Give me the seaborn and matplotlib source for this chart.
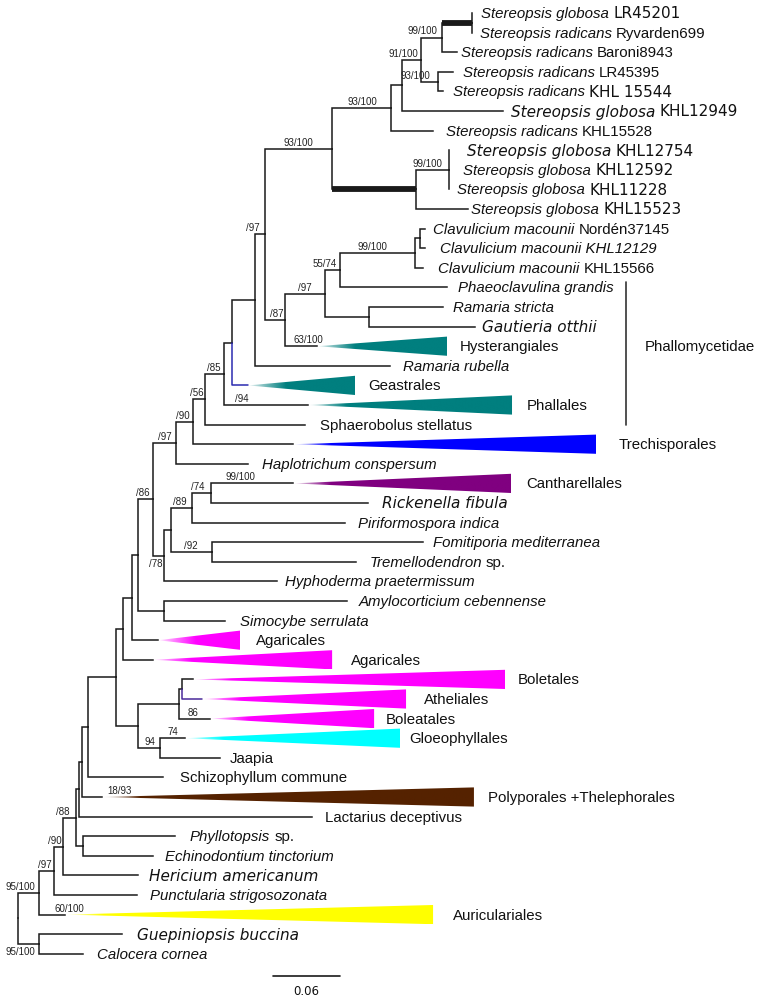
import numpy as np
import pandas as pd
import matplotlib
matplotlib.use("Agg")
import matplotlib.pyplot as plt
import matplotlib.colors as mcolors
from matplotlib.patches import Polygon
import seaborn as sns

sns.set_theme(style="white")
plt.rcParams["font.family"] = ["DejaVu Sans"]

# ---------------- data: tree topology (preorder, children top-to-bottom) -------------
node_id = ["root", "B", "C", "D", "NN", "MM", "LL", "KK", "FF", "EE", "DD", "BB", "W", "V", "U", "T", "S", "R", "Q",
           "P10", "P7", "P6", "P5", "P3", "P2", "P1", "LR45201", "Ryvarden699", "Baroni8943", "P4", "LR45395",
           "KHL15544", "KHL12949", "KHL15528", "P8", "P9", "KHL12754", "KHL12592", "KHL11228", "KHL15523",
           "P11", "P12", "P13", "CL1", "CL2", "Norden37145", "KHL12129", "KHL15566", "Phaeoclavulina", "P14",
           "Rstricta", "Gautieria", "Hysterangiales", "Rrubella", "Geastrales", "Phallales", "Sphaerobolus",
           "Trechisporales", "Haplotrichum", "X", "Y", "Z", "AB", "Cantharellales", "Rickenella", "Piriformospora",
           "AA", "Fomitiporia", "Tremellodendron", "Hyphoderma", "CC", "Amylocorticium", "Simocybe",
           "Agaricales1", "Agaricales2", "GG", "HH", "JJ", "Boletales", "Atheliales", "Boleatales", "II",
           "Gloeophyllales", "Jaapia", "Schizophyllum", "Polyporales", "Lactarius", "PE", "Phyllotopsis",
           "Echinodontium", "Hericium", "Punctularia", "Auriculariales", "GC", "Guepiniopsis", "Calocera"]
node_parent = [None, "root", "B", "C", "D", "NN", "MM", "LL", "KK", "FF", "EE", "DD", "BB", "W", "V", "U", "T", "S", "R",
               "Q", "P10", "P7", "P6", "P5", "P3", "P2", "P1", "P1", "P2", "P3", "P4",
               "P4", "P5", "P6", "P7", "P8", "P9", "P9", "P9", "P8",
               "P10", "P11", "P12", "P13", "CL1", "CL2", "CL2", "CL1", "P13", "P12",
               "P14", "P14", "P11", "Q", "R", "S", "T",
               "U", "V", "W", "X", "Y", "Z", "AB", "AB", "Z",
               "Y", "AA", "AA", "X", "BB", "CC", "CC",
               "DD", "EE", "FF", "GG", "HH", "JJ", "JJ", "HH", "GG",
               "II", "II", "KK", "LL", "MM", "NN", "PE",
               "PE", "D", "C", "B", "root", "GC", "GC"]
branch_len = [0.0, 0.0188, 0.0134, 0.0081, 0.0116, 0.0027, 0.0027, 0.0054, 0.0251, 0.0063, 0.0081, 0.0054, 0.0134,
              0.0206, 0.0152, 0.0107, 0.0170, 0.0072, 0.0206,
              0.0090, 0.0600, 0.0528, 0.0099, 0.0170, 0.0188, 0.0269, 0.0, 0.0, 0.0134, 0.0152, 0.0134,
              0.0045, 0.0904, 0.0376, 0.0752, 0.0296, 0.0, 0.0, 0.0, 0.0466,
              0.0179, 0.0358, 0.0134, 0.0672, 0.0045, 0.0045, 0.0045, 0.0072, 0.0958, 0.0394,
              0.0663, 0.0949, 0.0287, 0.1209, 0.0143, 0.0752, 0.0896,
              0.0896, 0.0645, 0.0099, 0.0063, 0.0188, 0.0170, 0.0734, 0.1406, 0.1370,
              0.0367, 0.1890, 0.1290, 0.1012, 0.0233, 0.1639, 0.0546,
              0.0233, 0.0269, 0.0197, 0.0367, 0.0027, 0.0099, 0.0179, 0.0278, 0.0197,
              0.0224, 0.0537, 0.0672, 0.0179, 0.2087, 0.0063, 0.0824,
              0.0627, 0.0672, 0.0743, 0.0233, 0.0188, 0.0743, 0.0394]

# collapsed clades (triangles)
clade_node = ["Hysterangiales", "Geastrales", "Phallales", "Trechisporales", "Cantharellales", "Agaricales1",
              "Agaricales2", "Boletales", "Atheliales", "Boleatales", "Gloeophyllales", "Polyporales",
              "Auriculariales"]
clade_name = ["Hysterangiales", "Geastrales", "Phallales", "Trechisporales", "Cantharellales", "Agaricales",
              "Agaricales", "Boletales", "Atheliales", "Boleatales", "Gloeophyllales", "Polyporales +Thelephorales",
              "Auriculariales"]
clade_depth = [0.1164, 0.0958, 0.1827, 0.2713, 0.1952, 0.0734, 0.1603, 0.2794, 0.1827, 0.1469, 0.1925, 0.3331,
               0.3296]

# tip labels: italic part + upright part
tip_node = ["LR45201", "Ryvarden699", "Baroni8943", "LR45395", "KHL15544", "KHL12949", "KHL15528", "KHL12754",
            "KHL12592", "KHL11228", "KHL15523", "Norden37145", "KHL12129", "KHL15566", "Phaeoclavulina",
            "Rstricta", "Gautieria", "Rrubella", "Sphaerobolus", "Haplotrichum", "Rickenella", "Piriformospora",
            "Fomitiporia", "Tremellodendron", "Hyphoderma", "Amylocorticium", "Simocybe", "Jaapia",
            "Schizophyllum", "Lactarius", "Phyllotopsis", "Echinodontium", "Hericium", "Punctularia",
            "Guepiniopsis", "Calocera"]
tip_italic = ["Stereopsis globosa", "Stereopsis radicans", "Stereopsis radicans", "Stereopsis radicans",
              "Stereopsis radicans", "Stereopsis globosa", "Stereopsis radicans", "Stereopsis globosa",
              "Stereopsis globosa", "Stereopsis globosa", "Stereopsis globosa", "Clavulicium macounii",
              "Clavulicium macounii KHL12129", "Clavulicium macounii", "Phaeoclavulina grandis",
              "Ramaria stricta", "Gautieria otthii", "Ramaria rubella", "", "Haplotrichum conspersum",
              "Rickenella fibula", "Piriformospora indica", "Fomitiporia mediterranea", "Tremellodendron",
              "Hyphoderma praetermissum", "Amylocorticium cebennense", "Simocybe serrulata", "", "", "",
              "Phyllotopsis", "Echinodontium tinctorium", "Hericium americanum", "Punctularia strigosozonata",
              "Guepiniopsis buccina", "Calocera cornea"]
tip_roman = ["LR45201", "Ryvarden699", "Baroni8943", "LR45395", "KHL 15544", "KHL12949", "KHL15528", "KHL12754",
             "KHL12592", "KHL11228", "KHL15523", "Nordén37145", "", "KHL15566", "", "", "", "",
             "Sphaerobolus stellatus", "", "", "", "", "sp.", "", "", "", "Jaapia", "Schizophyllum commune",
             "Lactarius deceptivus", "sp.", "", "", "", "", ""]

# support values
sup_node = ["P2", "P3", "P4", "P6", "P7", "P9", "P10", "CL1", "P13", "P12", "P11", "Hysterangiales", "S", "T",
            "Phallales", "U", "V", "W", "X", "Z", "AB", "AA", "Cantharellales", "II", "Gloeophyllales",
            "Boleatales", "Polyporales", "NN", "D", "C", "B", "Auriculariales", "GC"]
sup_text = ["99/100", "91/100", "93/100", "93/100", "93/100", "99/100", "/97", "99/100", "55/74", "/97", "/87",
            "63/100", "/85", "/56", "/94", "/90", "/97", "/86", "/78", "/89", "/74", "/92", "99/100", "94", "74",
            "86", "18/93", "/88", "/90", "/97", "95/100", "60/100", "95/100"]

scale_value = 0.06
group_name = "Phallomycetidae"

# ---------------- layout / style ----------------
PX = 0.06 / 67.0          # tree units per pixel
ROOT_PX, ROW0_PX, ROW_PX = 18, 14, 19.6
W_PX, H_PX = 767, 1003

sup_dx = [-5, -3, -8, -14, -19, -7, -5, -28, -3, -13, -2, 8, -4, -1, 11, -3, -4, -3, -2, -6, -7, -15, 14, -5, 7,
          9, 25, -6, -1, -2, -4, 16, -4]
sup_below = {"X", "GC"}
label_gap = dict(zip(tip_node, [9, 8, 4, 10, 10, 8, 13, 18, 14, 8, 3, 8, 15, 15, 11, 10, 7, 13, 15, 14, 14, 13,
                                10, 13, 8, 12, 15, 10, 17, 13, 15, 12, 11, 13, 15, 14]))
clade_gap = [13, 13, 15, 23, 15, 16, 19, 13, 18, 12, 9, 14, 20]
clade_color = ["#007f7f", "#007f7f", "#007f7f", "#0000ff", "#800080", "#ff00ff", "#ff00ff", "#ff00ff",
               "#ff00ff", "#ff00ff", "#00ffff", "#552200", "#ffff00"]
wide_italic = {"KHL12949", "KHL12754", "Gautieria", "Rickenella", "Hericium", "Guepiniopsis"}
wide_roman = {"LR45201", "KHL15544", "KHL12949", "KHL12754", "KHL12592", "KHL11228", "KHL15523"}
WIDE, NARROW = ("DejaVu Sans", 11.0), ("Liberation Sans", 10.8)
thick_edges = {"P1", "P8"}
edge_colors = {"Geastrales": "#2b2bb0", "Atheliales": "#4a2a9a"}
LINE = "#1a1a1a"

# ---------------- compute layout ----------------
children = {n: [] for n in node_id}
for n, p in zip(node_id, node_parent):
    if p is not None:
        children[p].append(n)
parent = dict(zip(node_id, node_parent))
xpos, ypos = {}, {}
row = 0
for n, p, l in zip(node_id, node_parent, branch_len):
    xpos[n] = (xpos[p] if p is not None else 0.0) + l
    if not children[n]:
        ypos[n] = row
        row += 1


def set_y(n):
    if n in ypos:
        return ypos[n]
    ys = [set_y(c) for c in children[n]]
    ypos[n] = (ys[0] + ys[-1]) / 2.0
    return ypos[n]


set_y("root")

fig = plt.figure(figsize=(W_PX / 100, H_PX / 100), dpi=100)
ax = fig.add_axes([0, 0, 1, 1])

# edges
rows = []
for n in node_id:
    p = parent[n]
    if p is None:
        continue
    grp = "col" if n in edge_colors else "k"
    pts = [(xpos[p], ypos[p]), (xpos[p], ypos[n]), (xpos[n], ypos[n])]
    for k, (x, y) in enumerate(pts):
        rows.append(dict(seg=n, order=k, x=x, y=y, grp=grp))
edges = pd.DataFrame(rows)
sns.lineplot(data=edges[edges.grp == "k"], x="x", y="y", units="seg", estimator=None, sort=False,
             color=LINE, linewidth=1.1, ax=ax, solid_joinstyle="miter", solid_capstyle="projecting")
for n, c in edge_colors.items():
    sns.lineplot(data=edges[edges.seg == n], x="x", y="y", estimator=None, sort=False,
                 color=c, linewidth=1.1, ax=ax)
thick = edges[edges.seg.isin(thick_edges) & (edges.order >= 1)]
sns.lineplot(data=thick, x="x", y="y", units="seg", estimator=None, sort=False,
             color=LINE, linewidth=4.2, ax=ax, solid_capstyle="butt")

# collapsed clade triangles with fading apex
FADE_PX = 38
for cn, name, depth, col, gap in zip(clade_node, clade_name, clade_depth, clade_color, clade_gap):
    x0, y0 = xpos[cn], ypos[cn]
    x1, h = x0 + depth, 0.49
    poly = Polygon([(x0, y0), (x1, y0 - h), (x1, y0 + h)], closed=True, fc="none", ec="none")
    ax.add_patch(poly)
    n = 500
    xs = np.linspace(0, depth, n)
    img = np.zeros((1, n, 4))
    img[..., :3] = mcolors.to_rgb(col)
    img[0, :, 3] = np.clip(xs / (FADE_PX * PX), 0, 1) ** 0.8
    im = ax.imshow(img, extent=(x0, x1, y0 + h, y0 - h), aspect="auto", interpolation="bilinear", zorder=1)
    im.set_clip_path(poly)
    ax.text(x1 + gap * PX, y0, name, family=NARROW[0], size=NARROW[1], va="center", ha="left", color="#111")

# tip labels
for n, it, ro in zip(tip_node, tip_italic, tip_roman):
    x = xpos[n] + label_gap[n] * PX
    y = ypos[n]
    fi = WIDE if n in wide_italic else NARROW
    fr = WIDE if n in wide_roman else NARROW
    first = None
    if it:
        first = ax.text(x, y, it, style="italic", family=fi[0], size=fi[1], va="center", ha="left", color="#111")
    if ro:
        if first is None:
            ax.text(x, y, ro, family=fr[0], size=fr[1], va="center", ha="left", color="#111")
        else:
            ax.annotate(ro, xy=(1, 0.5), xycoords=first, xytext=(4, 0), textcoords="offset pixels",
                        family=fr[0], size=fr[1], va="center", ha="left", color="#111")

# support values
for n, t, dx in zip(sup_node, sup_text, sup_dx):
    if dx < 0:
        xa, ha = xpos[n], "right"
    else:
        xa, ha = xpos[parent[n]], "left"
    below = n in sup_below
    ax.annotate(t, xy=(xa, ypos[n]), xytext=(dx, -2 if below else 2), textcoords="offset pixels",
                ha=ha, va="top" if below else "bottom", family="Liberation Sans", size=7, color="#222")

# Phallomycetidae bracket
bx = (626 - ROOT_PX) * PX
ax.plot([bx, bx], [ypos["Phaeoclavulina"] - 0.3, ypos["Sphaerobolus"]], color="#333", lw=1.2)
ax.text((645 - ROOT_PX) * PX, ypos["Hysterangiales"], group_name, family=NARROW[0], size=NARROW[1],
        va="center", ha="left", color="#111")

# scale bar
sx0 = (273 - ROOT_PX) * PX
sy = (977 - ROW0_PX) / ROW_PX
ax.plot([sx0, sx0 + scale_value], [sy, sy], color=LINE, lw=1.2)
ax.text(sx0 + scale_value / 2, (992 - ROW0_PX) / ROW_PX, f"{scale_value:.2f}", ha="center", va="center",
        family="DejaVu Sans", size=8.5, color="#111")

ax.set_xlim(-ROOT_PX * PX, (W_PX - ROOT_PX) * PX)
ax.set_ylim((H_PX - ROW0_PX) / ROW_PX, -ROW0_PX / ROW_PX)
ax.axis("off")
fig.savefig("out.png", dpi=100, facecolor="white")
